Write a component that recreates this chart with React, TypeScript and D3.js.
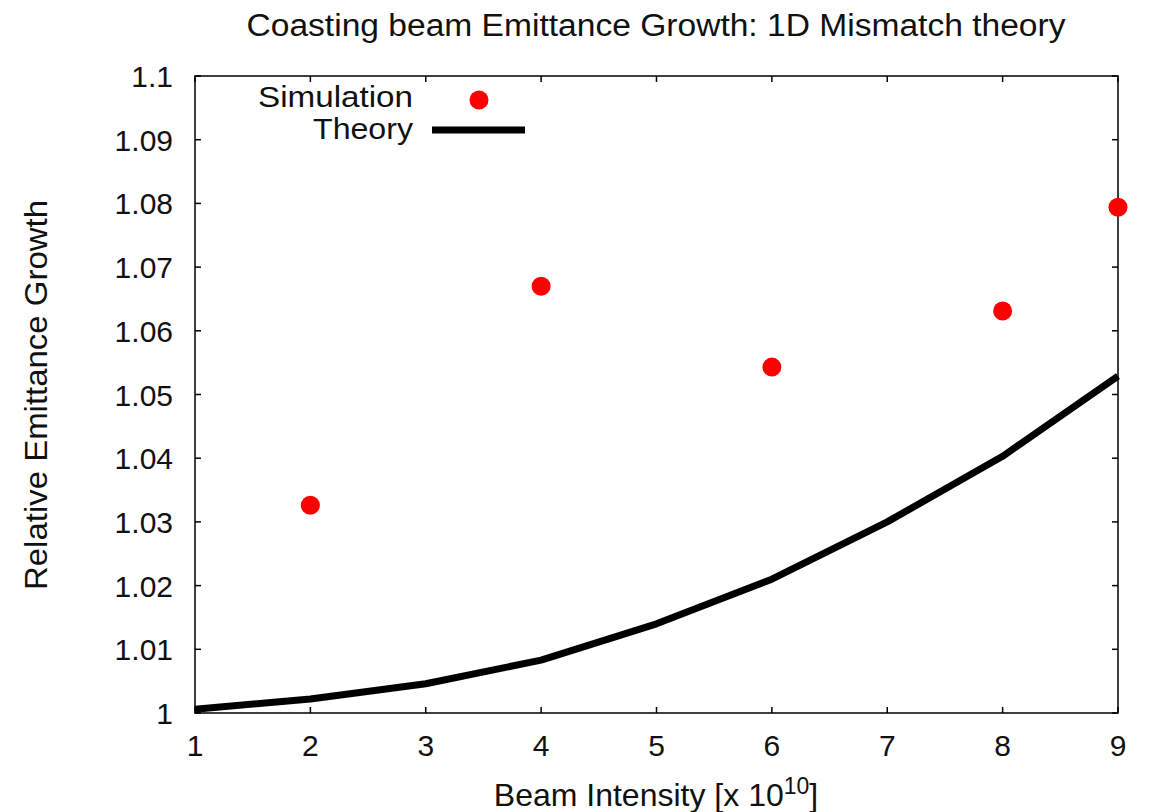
import React from "react";
import * as d3 from "d3";

const simX = [2, 4, 6, 8, 9];
const simY = [1.0326, 1.067, 1.0543, 1.0631, 1.0794];
const theoryX = [1, 2, 3, 4, 5, 6, 7, 8, 9];
const theoryY = [1.0006, 1.0022, 1.0046, 1.0083, 1.014, 1.021, 1.0300, 1.0403, 1.0529];
const xTicks = [1, 2, 3, 4, 5, 6, 7, 8, 9];
const yTicks = [1, 1.01, 1.02, 1.03, 1.04, 1.05, 1.06, 1.07, 1.08, 1.09, 1.1];

const W = 1157, H = 812;
const L = 195, R = 1118, T = 76, B = 713;
const FONT = "'Liberation Sans', Arial, sans-serif";

export default function App() {
  const x = d3.scaleLinear().domain([1, 9]).range([L, R]);
  const y = d3.scaleLinear().domain([1, 1.1]).range([B, T]);
  const line = d3.line<number>().x((_, i) => x(theoryX[i])).y((d) => y(d));
  const tl = 6;
  return (
    <svg width={W} height={H} style={{ position: "absolute", left: 0, top: 0, background: "#fff" }} fontFamily={FONT}>
      <rect x={0} y={0} width={W} height={H} fill="#fff" />
      <text x={656} y={36} textAnchor="middle" fontSize={31} textLength={819} lengthAdjust="spacingAndGlyphs" fill="#111">
        Coasting beam Emittance Growth: 1D Mismatch theory
      </text>
      {xTicks.map((t) => (
        <g key={"x" + t}>
          <line x1={x(t)} x2={x(t)} y1={B} y2={B - tl} stroke="#000" strokeWidth={1.5} />
          <line x1={x(t)} x2={x(t)} y1={T} y2={T + tl} stroke="#000" strokeWidth={1.5} />
          <text x={x(t)} y={B + 43} textAnchor="middle" fontSize={30} fill="#111">{t}</text>
        </g>
      ))}
      {yTicks.map((t) => (
        <g key={"y" + t}>
          <line x1={L} x2={L + tl} y1={y(t)} y2={y(t)} stroke="#000" strokeWidth={1.5} />
          <line x1={R} x2={R - tl} y1={y(t)} y2={y(t)} stroke="#000" strokeWidth={1.5} />
          <text x={L - 22} y={y(t) + 11} textAnchor="end" fontSize={30} fill="#111">{String(+t.toFixed(2))}</text>
        </g>
      ))}
      <rect x={L} y={T} width={R - L} height={B - T} fill="none" stroke="#000" strokeWidth={1.5} />
      <path d={line(theoryY) || ""} fill="none" stroke="#000" strokeWidth={7} strokeLinejoin="round" />
      {simX.map((v, i) => (
        <circle key={i} cx={x(v)} cy={y(simY[i])} r={9.5} fill="#f00" />
      ))}
      <text x={413} y={107} textAnchor="end" fontSize={30} textLength={155} lengthAdjust="spacingAndGlyphs" fill="#111">Simulation</text>
      <circle cx={479} cy={100} r={9.5} fill="#f00" />
      <text x={413} y={139} textAnchor="end" fontSize={30} textLength={100} lengthAdjust="spacingAndGlyphs" fill="#111">Theory</text>
      <line x1={432} x2={525} y1={130} y2={130} stroke="#000" strokeWidth={7} />
      <text x={656} y={806} textAnchor="middle" fontSize={32} fill="#111">
        Beam Intensity [x 10<tspan dy={-12} fontSize={23}>10</tspan><tspan dy={12}>]</tspan>
      </text>
      <text transform={`translate(47,395) rotate(-90)`} textAnchor="middle" fontSize={31} textLength={390} lengthAdjust="spacingAndGlyphs" fill="#111">
        Relative Emittance Growth
      </text>
    </svg>
  );
}
